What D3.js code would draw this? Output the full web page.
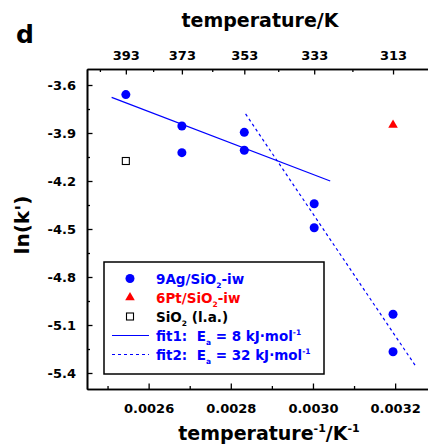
<!DOCTYPE html>
<html>
<head>
<meta charset="utf-8">
<script src="https://cdn.jsdelivr.net/npm/d3@7"></script>
<style>
  html, body { margin: 0; padding: 0; background: #fff; }
  svg { display: block; font-family: "DejaVu Sans", Verdana, sans-serif; font-weight: bold; }
</style>
</head>
<body>
<svg id="chart" width="428" height="447"></svg>
<script>
// ---- data ----
const agTemps   = [393, 373, 373, 353, 353, 333, 333, 313, 313];
const agLnK     = [-3.66, -3.856, -4.023, -3.896, -4.008, -4.342, -4.492, -5.033, -5.267];
const ptTemps   = [313];
const ptLnK     = [-3.85];
const sioTemps  = [393];
const sioLnK    = [-4.075];
const fit1X     = [0.00251, 0.003042];
const fit1Y     = [-3.677, -4.2];
const fit2X     = [0.002836, 0.003251];
const fit2Y     = [-3.781, -5.361];
const invTMajor = [0.0026, 0.0028, 0.0030, 0.0032];
const invTMinor = [0.0025, 0.0027, 0.0029, 0.0031];
const tempMajor = [393, 373, 353, 333, 313];
const tempMinor = [403, 383, 363, 343, 323];
const yMajor    = [-3.6, -3.9, -4.2, -4.5, -4.8, -5.1, -5.4];
const yMinor    = [-3.75, -4.05, -4.35, -4.65, -4.95, -5.25];

const BLUE = "#0000ff", RED = "#ff0000";
const svg = d3.select("#chart");
const L = 87, R = 428, T = 69, B = 389;

const x = d3.scaleLinear().domain([0.00245, 0.00328]).range([L, R]);
const y = d3.scaleLinear().domain([-5.5, -3.5]).range([B, T]);

const fmtY = d => d.toFixed(1);          // plain hyphen-minus like the original
const fmtX = d => d.toFixed(4);

function styleAxis(g) {
  g.selectAll("path.domain").attr("stroke", "#000").attr("stroke-width", 1.6);
  g.selectAll(".tick line").attr("stroke", "#000").attr("stroke-width", 1.3);
  g.selectAll(".tick text").attr("font-size", 13).attr("font-weight", "bold")
    .attr("font-family", "DejaVu Sans, Verdana, sans-serif").attr("fill", "#000");
}

// bottom axis
svg.append("g").attr("transform", `translate(0,${B})`)
  .call(d3.axisBottom(x).tickValues(invTMinor).tickFormat("").tickSize(-3).tickSizeOuter(0))
  .call(styleAxis);
svg.append("g").attr("transform", `translate(0,${B})`)
  .call(d3.axisBottom(x).tickValues(invTMajor).tickFormat(fmtX).tickSize(-5.5).tickSizeOuter(0).tickPadding(15))
  .call(styleAxis);

// top axis (temperature)
svg.append("g").attr("transform", `translate(0,${T})`)
  .call(d3.axisTop(x).tickValues(tempMinor.map(t => 1 / t)).tickFormat("").tickSize(-3).tickSizeOuter(0))
  .call(styleAxis);
svg.append("g").attr("transform", `translate(0,${T})`)
  .call(d3.axisTop(x).tickValues(tempMajor.map(t => 1 / t)).tickFormat((d, i) => tempMajor[i]).tickSize(-5.5).tickSizeOuter(0).tickPadding(9.5))
  .call(styleAxis);

// left axis
svg.append("g").attr("transform", `translate(${L},0)`)
  .call(d3.axisLeft(y).tickValues(yMinor).tickFormat("").tickSize(-3).tickSizeOuter(0))
  .call(styleAxis);
svg.append("g").attr("transform", `translate(${L},0)`)
  .call(d3.axisLeft(y).tickValues(yMajor).tickFormat(fmtY).tickSize(-5.5).tickSizeOuter(0).tickPadding(11))
  .call(styleAxis);

// fit lines
const line = d3.line().x(d => x(d[0])).y(d => y(d[1]));
svg.append("path").datum(fit1X.map((v, i) => [v, fit1Y[i]]))
  .attr("d", line).attr("fill", "none").attr("stroke", BLUE).attr("stroke-width", 1.2);
svg.append("path").datum(fit2X.map((v, i) => [v, fit2Y[i]]))
  .attr("d", line).attr("fill", "none").attr("stroke", BLUE).attr("stroke-width", 1.2)
  .attr("stroke-dasharray", "3,3");

// points
svg.append("g").selectAll("circle").data(agTemps.map((t, i) => [1 / t, agLnK[i]]))
  .join("circle").attr("cx", d => x(d[0])).attr("cy", d => y(d[1])).attr("r", 4.5).attr("fill", BLUE);
const tri = d3.symbol().type(d3.symbolTriangle).size(40);
svg.append("g").selectAll("path").data(ptTemps.map((t, i) => [1 / t, ptLnK[i]]))
  .join("path").attr("d", tri).attr("transform", d => `translate(${x(d[0])},${y(d[1])})`).attr("fill", RED);
svg.append("g").selectAll("rect").data(sioTemps.map((t, i) => [1 / t, sioLnK[i]]))
  .join("rect").attr("x", d => x(d[0]) - 3.5).attr("y", d => y(d[1]) - 3.5)
  .attr("width", 7).attr("height", 7).attr("fill", "#fff").attr("stroke", "#000").attr("stroke-width", 1.1);

// legend
const lg = svg.append("g");
lg.append("rect").attr("x", 104).attr("y", 262).attr("width", 220).attr("height", 112)
  .attr("fill", "#fff").attr("stroke", "#000").attr("stroke-width", 1.5);
const rowY = [278.5, 297.5, 316.5, 335.5, 354.5];
const symX = 130, textX = 156;
lg.append("circle").attr("cx", symX).attr("cy", rowY[0]).attr("r", 4.5).attr("fill", BLUE);
lg.append("path").attr("d", tri).attr("transform", `translate(${symX},${rowY[1]})`).attr("fill", RED);
lg.append("rect").attr("x", symX - 3.5).attr("y", rowY[2] - 3.5).attr("width", 7).attr("height", 7)
  .attr("fill", "#fff").attr("stroke", "#000").attr("stroke-width", 1.1);
lg.append("line").attr("x1", 112).attr("x2", 149).attr("y1", rowY[3]).attr("y2", rowY[3])
  .attr("stroke", BLUE).attr("stroke-width", 1.2);
lg.append("line").attr("x1", 112).attr("x2", 149).attr("y1", rowY[4]).attr("y2", rowY[4])
  .attr("stroke", BLUE).attr("stroke-width", 1.2).attr("stroke-dasharray", "3,3");

const legendRows = [
  { color: BLUE, parts: [["9Ag/SiO", 0], ["2", 1], ["-iw", 0]] },
  { color: RED,  parts: [["6Pt/SiO", 0], ["2", 1], ["-iw", 0]] },
  { color: "#000", parts: [["SiO", 0], ["2", 1], [" (l.a.)", 0]] },
  { color: BLUE, parts: [["fit1:  E", 0], ["a", 1], [" = 8 kJ\u00b7mol", 0], ["-1", 2]] },
  { color: BLUE, parts: [["fit2:  E", 0], ["a", 1], [" = 32 kJ\u00b7mol", 0], ["-1", 2]] }
];
legendRows.forEach((row, i) => {
  const t = lg.append("text").attr("x", textX).attr("y", rowY[i] + 5).attr("fill", row.color)
    .attr("font-size", 13.5).attr("xml:space", "preserve");
  let shift = 0;
  row.parts.forEach(p => {
    const ts = t.append("tspan").text(p[0]);
    const target = p[1] === 1 ? 4 : p[1] === 2 ? -6 : 0;
    if (target !== shift) ts.attr("dy", target - shift);
    shift = target;
    if (p[1]) ts.attr("font-size", 7.5);
  });
});

// titles
svg.append("text").attr("x", 260).attr("y", 27).attr("text-anchor", "middle").attr("font-size", 19).text("temperature/K");
const bt = svg.append("text").attr("x", 269).attr("y", 440).attr("text-anchor", "middle").attr("font-size", 19);
bt.append("tspan").text("temperature");
bt.append("tspan").attr("dy", -8).attr("font-size", 11).text("-1");
bt.append("tspan").attr("dy", 8).text("/K");
bt.append("tspan").attr("dy", -8).attr("font-size", 11).text("-1");
svg.append("text").attr("transform", "translate(29,225) rotate(-90)").attr("text-anchor", "middle")
  .attr("font-size", 20).text("ln(k')");
svg.append("text").attr("x", 16).attr("y", 43).attr("font-size", 25).text("d");
</script>
</body>
</html>
